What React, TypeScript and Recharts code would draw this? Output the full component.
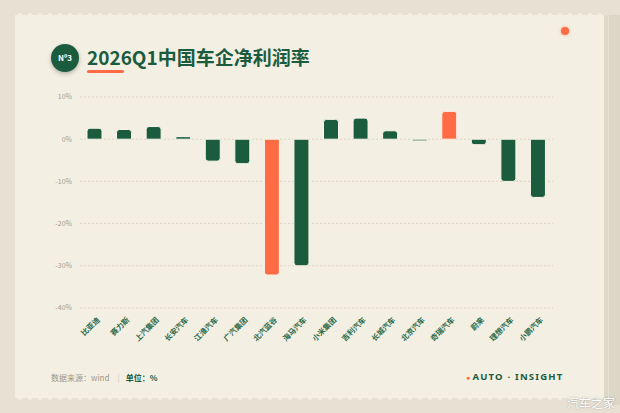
import React from "react";
import { Bar, BarChart, CartesianGrid, Cell, XAxis, YAxis } from "recharts";

const companies = [
  "比亚迪",
  "赛力斯",
  "上汽集团",
  "长安汽车",
  "江淮汽车",
  "广汽集团",
  "北汽蓝谷",
  "海马汽车",
  "小米集团",
  "吉利汽车",
  "长城汽车",
  "北京汽车",
  "奇瑞汽车",
  "蔚来",
  "理想汽车",
  "小鹏汽车"
];
const netMargin = [2.6, 2.3, 3.0, 0.6, -5.2, -5.8, -32.2, -30.0, 4.7, 5.0, 2.0, -0.4, 6.6, -1.3, -10.0, -13.8];
const highlighted = ["北汽蓝谷", "奇瑞汽车"];
const yTicks = [-40, -30, -20, -10, 0, 10];

const data = companies.map((name, i) => ({ name, value: netMargin[i] }));

const GREEN = "#1b5c3e";
const ORANGE = "#ff6b45";
const CARD = "#f4efe3";
const OUTER = "#e6e1d3";
const FONT = '"Noto Sans CJK SC", "Noto Sans", sans-serif';

function CategoryTick({ x, y, payload }: any) {
  return (
    <text
      x={x + 4}
      y={y + 3}
      transform={`rotate(-45 ${x + 4} ${y + 3})`}
      textAnchor="end"
      dominantBaseline="middle"
      fontSize={7.5}
      fontWeight={700}
      fill="#2b6b4a"
      fontFamily={FONT}
    >
      {payload.value}
    </text>
  );
}

function Scallops({ y }: { y: number }) {
  const dots = [];
  for (let x = 20; x < 604; x += 10) {
    dots.push(<circle key={x} cx={x} cy={y} r={2} fill={CARD} />);
  }
  return <g>{dots}</g>;
}

export default function App() {
  return (
    <div
      style={{
        position: "absolute",
        left: 0,
        top: 0,
        width: 620,
        height: 413,
        background: OUTER,
        fontFamily: FONT,
        overflow: "hidden"
      }}
    >
      <svg width={620} height={413} style={{ position: "absolute", left: 0, top: 0 }}>
        <rect x={609} y={15} width={11} height={390} fill="#dcd6c6" />
        <rect x={15} y={15} width={589} height={383} fill={CARD} />
        <rect x={604} y={15} width={4} height={383} fill="#ded8c9" />
        <Scallops y={15} />
        <Scallops y={398} />
      </svg>

      {/* title badge */}
      <div
        style={{
          position: "absolute",
          left: 51,
          top: 44,
          width: 28,
          height: 28,
          borderRadius: 14,
          background: GREEN,
          boxShadow: "0 2px 4px rgba(0,0,0,0.25)",
          color: "#fff",
          fontSize: 8,
          lineHeight: "28px",
          textAlign: "center",
          fontWeight: 600
        }}
      >
        Nº3
      </div>
      <div
        style={{
          position: "absolute",
          left: 87,
          top: 44,
          fontSize: 19,
          fontWeight: 700,
          color: GREEN,
          whiteSpace: "nowrap",
          lineHeight: "26px"
        }}
      >
        2026Q1中国车企净利润率
      </div>
      <div
        style={{
          position: "absolute",
          left: 87,
          top: 70,
          width: 37,
          height: 2.5,
          borderRadius: 2,
          background: ORANGE
        }}
      />
      <div
        style={{
          position: "absolute",
          left: 561,
          top: 27,
          width: 8,
          height: 8,
          borderRadius: 4,
          background: ORANGE,
          boxShadow: "0 0 3px rgba(255,107,69,0.5)"
        }}
      />

      <div style={{ position: "absolute", left: 0, top: 0 }}>
        <BarChart
          width={620}
          height={413}
          data={data}
          margin={{ top: 97, right: 67, left: 40, bottom: 65 }}
        >
          <CartesianGrid vertical={false} stroke="#dcd5c2" strokeDasharray="2 2" />
          <XAxis
            dataKey="name"
            axisLine={false}
            tickLine={false}
            interval={0}
            height={40}
            tick={<CategoryTick />}
          />
          <YAxis
            domain={[-40, 10]}
            ticks={yTicks}
            width={40}
            axisLine={false}
            tickLine={false}
            tickFormatter={(v) => `${v}%`}
            tick={{ fontSize: 7, fill: "#a39d8d", fontFamily: FONT }}
          />
          <Bar
            dataKey="value"
            barSize={15}
            radius={[3, 3, 0, 0]}
            stroke="#fbf7ee"
            strokeWidth={1}
            isAnimationActive={false}
          >
            {data.map((d) => (
              <Cell key={d.name} fill={highlighted.includes(d.name) ? ORANGE : GREEN} />
            ))}
          </Bar>
        </BarChart>
      </div>

      {/* footer */}
      <div
        style={{
          position: "absolute",
          left: 51,
          top: 372,
          fontSize: 8,
          color: "#9c978a",
          whiteSpace: "nowrap",
          lineHeight: "12px"
        }}
      >
        数据来源：wind
        <span style={{ color: "#d0cabb", margin: "0 6px 0 8px" }}>|</span>
        <span style={{ color: GREEN, fontWeight: 700 }}>单位：%</span>
      </div>
      <div
        style={{
          position: "absolute",
          left: 466,
          top: 370,
          fontSize: 9.5,
          fontWeight: 700,
          color: GREEN,
          letterSpacing: 1.2,
          whiteSpace: "nowrap",
          lineHeight: "14px",
          fontFamily: '"Noto Sans", sans-serif'
        }}
      >
        <span style={{ color: ORANGE, fontSize: 7, marginRight: 1 }}>●</span>AUTO · INSIGHT
      </div>
      <div
        style={{
          position: "absolute",
          left: 567,
          top: 395,
          fontSize: 12,
          color: "#ffffff",
          whiteSpace: "nowrap",
          lineHeight: "15px",
          textShadow: "0 0 2px rgba(0,0,0,0.35)"
        }}
      >
        汽车之家
      </div>
    </div>
  );
}
